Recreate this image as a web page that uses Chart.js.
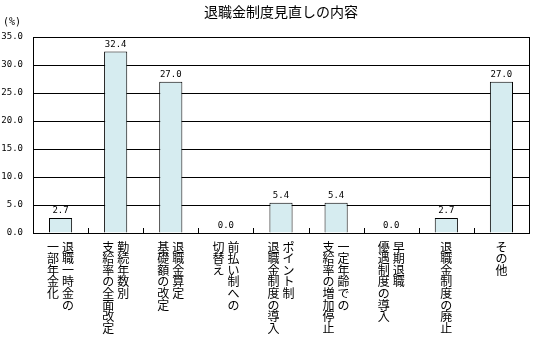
<!DOCTYPE html>
<html>
<head>
<meta charset="utf-8">
<script src="https://cdn.jsdelivr.net/npm/chart.js@4/dist/chart.umd.min.js"></script>
<style>
  html, body { margin: 0; padding: 0; background: #fff; }
  #chart { display: block; }
</style>
</head>
<body>
<canvas id="chart" width="540" height="342"></canvas>
<script>
// 退職金制度見直しの内容 (%)
const titleText = '退職金制度見直しの内容';
const unitText = '(%)';

// each category is written vertically, columns listed right to left
const categories = [
  ['退職一時金の', '一部年金化'],
  ['勤続年数別', '支給率の全面改定'],
  ['退職金算定', '基礎額の改定'],
  ['前払い制への', '切替え'],
  ['ポイント制', '退職金制度の導入'],
  ['一定年齢での', '支給率の増加停止'],
  ['早期退職', '優遇制度の導入'],
  ['退職金制度の廃止'],
  ['その他']
];
const values = [2.7, 32.4, 27.0, 0.0, 5.4, 5.4, 0.0, 2.7, 27.0];
const yMin = 0, yMax = 35, yStep = 5;

const JP_FONT = '"Noto Sans CJK JP", "Noto Sans", sans-serif';
const NUM_FONT = '"DejaVu Sans Mono", monospace';

// title, frame, bottom ticks, value labels, vertical category labels
const drawExtras = {
  id: 'drawExtras',
  afterDatasetsDraw(chart) {
    const { ctx, chartArea: a, scales: { x, y } } = chart;
    const step = x.getPixelForValue(1) - x.getPixelForValue(0);

    ctx.save();
    ctx.fillStyle = '#000';
    ctx.font = '14px ' + JP_FONT;
    ctx.textAlign = 'center';
    ctx.textBaseline = 'middle';
    ctx.fillText(titleText, (a.left + a.right) / 2, 12);

    ctx.strokeStyle = '#000';
    ctx.lineWidth = 1;
    ctx.strokeRect(Math.round(a.left) + 0.5, Math.round(a.top) + 0.5,
      Math.round(a.right - a.left), Math.round(a.bottom - a.top));

    // short inward ticks between categories
    ctx.beginPath();
    for (let i = 1; i < categories.length; i++) {
      const px = Math.round(x.getPixelForValue(i) - step / 2) + 0.5;
      ctx.moveTo(px, a.bottom);
      ctx.lineTo(px, a.bottom - 5);
    }
    ctx.stroke();

    // values above bars
    ctx.font = '9px ' + NUM_FONT;
    ctx.textBaseline = 'alphabetic';
    values.forEach((v, i) => {
      ctx.fillText(v.toFixed(1), x.getPixelForValue(i), y.getPixelForValue(v) - 5);
    });

    // vertical labels
    ctx.font = '12px ' + JP_FONT;
    ctx.textBaseline = 'top';
    const colGap = 15, pitch = 11.6, top = a.bottom + 8;
    categories.forEach((cols, i) => {
      const cx = x.getPixelForValue(i);
      cols.forEach((text, k) => {
        const colX = cx + (cols.length - 1) / 2 * colGap - k * colGap;
        [...text].forEach((ch, j) => ctx.fillText(ch, colX, top + j * pitch));
      });
    });

    // unit label above the y axis
    ctx.font = '10px ' + NUM_FONT;
    ctx.textAlign = 'left';
    ctx.textBaseline = 'middle';
    ctx.fillText(unitText, 3, 22);
    ctx.restore();
  }
};

new Chart(document.getElementById('chart'), {
  type: 'bar',
  data: {
    labels: categories.map(c => c.join('')),
    datasets: [{
      data: values,
      backgroundColor: '#d6ecf0',
      borderColor: '#000',
      borderWidth: 1,
      categoryPercentage: 1,
      barPercentage: 0.42
    }]
  },
  options: {
    responsive: false,
    animation: false,
    devicePixelRatio: 1,
    layout: { padding: { top: 37, right: 11, bottom: 101, left: 0 } },
    plugins: {
      legend: { display: false },
      tooltip: { enabled: false },
      title: { display: false }
    },
    scales: {
      x: {
        ticks: { display: false },
        grid: { display: false },
        border: { display: false }
      },
      y: {
        min: yMin,
        max: yMax,
        ticks: {
          stepSize: yStep,
          color: '#000',
          padding: 10,
          font: { family: NUM_FONT, size: 9 },
          callback: v => v.toFixed(1)
        },
        grid: { color: '#000', lineWidth: 1, drawTicks: false },
        border: { display: false },
        afterFit(scale) { scale.width = 33; }
      }
    }
  },
  plugins: [drawExtras]
});
</script>
</body>
</html>
